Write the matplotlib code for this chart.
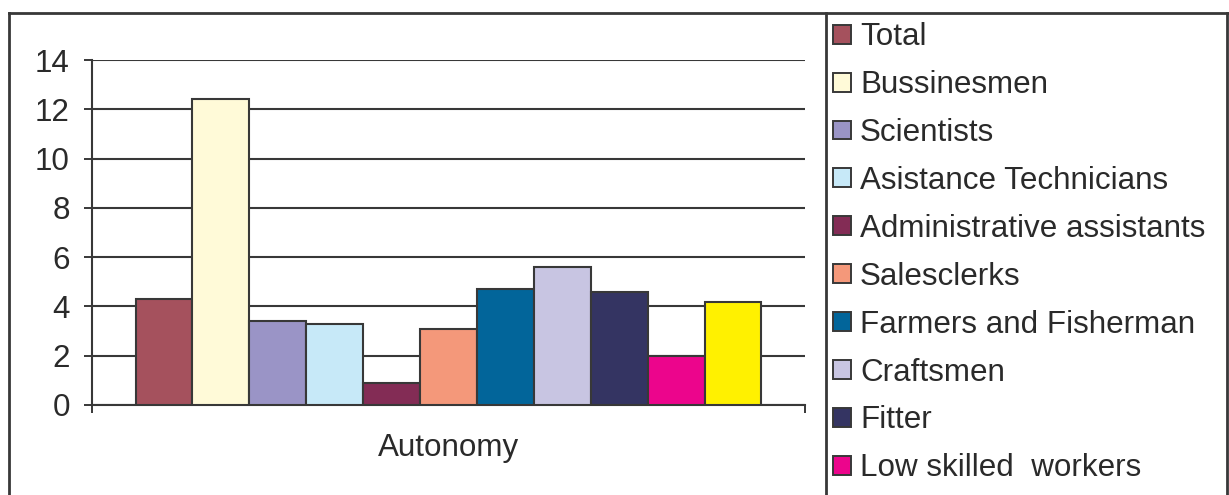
import matplotlib.pyplot as plt
from matplotlib.lines import Line2D
from matplotlib.patches import Patch
import numpy as np

plt.rcParams['font.family'] = ['Liberation Sans', 'DejaVu Sans']

# survey scores for the "Autonomy" item, one bar per occupational group
groups = ['Total', 'Bussinesmen', 'Scientists', 'Asistance Technicians',
          'Administrative assistants', 'Salesclerks', 'Farmers and Fisherman',
          'Craftsmen', 'Fitter', 'Low skilled  workers', 'Others']
values = [4.3, 12.4, 3.4, 3.3, 0.9, 3.1, 4.7, 5.6, 4.6, 2.0, 4.2]
colors = ['#A5515D', '#FFFAD8', '#9A94C6', '#C7E9F8', '#832C55', '#F4987A',
          '#02659A', '#C8C5E2', '#343462', '#EC058C', '#FFF100']
category = 'Autonomy'
shown_in_legend = 10   # the panel only has room for the first ten entries

W, H = 1229, 495
fig = plt.figure(figsize=(W / 100, H / 100), dpi=100)
line_col = '#383838'
text_col = '#2a2a2a'
fs = 22.6

def fx(px):
    return px / W

def fy(py):
    return 1 - py / H

ax = fig.add_axes([fx(92), fy(405), fx(805) - fx(92), fy(60) - fy(405)])

n = len(values)
bw = 0.0798
offs = (np.arange(n) - (n - 1) / 2) * bw
bars = ax.bar(offs, values, width=bw, color=colors, edgecolor=line_col,
              linewidth=1.5, zorder=3)

ax.set_xlim(-0.5, 0.5)
ax.set_ylim(0, 14)
ax.set_yticks(np.arange(0, 15, 2))
ax.set_xticks([-0.5, 0.5])
ax.set_xticklabels([])
ax.yaxis.grid(True, color=line_col, linewidth=1.5, zorder=0)
ax.set_axisbelow(True)
for s in ['top', 'right']:
    ax.spines[s].set_visible(False)
for s in ['left', 'bottom']:
    ax.spines[s].set_color(line_col)
    ax.spines[s].set_linewidth(1.5)
ax.tick_params(axis='y', direction='out', length=6, width=1.4, color=line_col,
               labelsize=fs, labelcolor=text_col, pad=10)
ax.tick_params(axis='x', direction='out', length=6, width=1.4, color=line_col)
ax.text(0, -0.125, category, transform=ax.get_xaxis_transform(), ha='center',
        va='center', fontsize=fs, color=text_col)

# frame around the chart and the legend panel
frame = dict(color=line_col, linewidth=2.0, transform=fig.transFigure)
fig.add_artist(Line2D([fx(9), fx(1228)], [fy(13), fy(13)], **frame))
fig.add_artist(Line2D([fx(9), fx(9)], [fy(13), 0], **frame))
fig.add_artist(Line2D([fx(1227), fx(1227)], [fy(13), 0], **frame))
fig.add_artist(Line2D([fx(826), fx(826)], [fy(13), 0], **frame))

handles = [Patch(facecolor=c, edgecolor=line_col, linewidth=1.4) for c in colors]
fig.legend(handles[:shown_in_legend], groups[:shown_in_legend], loc='upper left',
           bbox_to_anchor=(fx(827), fy(16)), frameon=False, fontsize=fs,
           handlelength=0.55, handleheight=0.55, handletextpad=0.3,
           labelspacing=0.57, borderaxespad=0, borderpad=0.2,
           labelcolor=text_col)

fig.savefig('out.png', dpi=100)
